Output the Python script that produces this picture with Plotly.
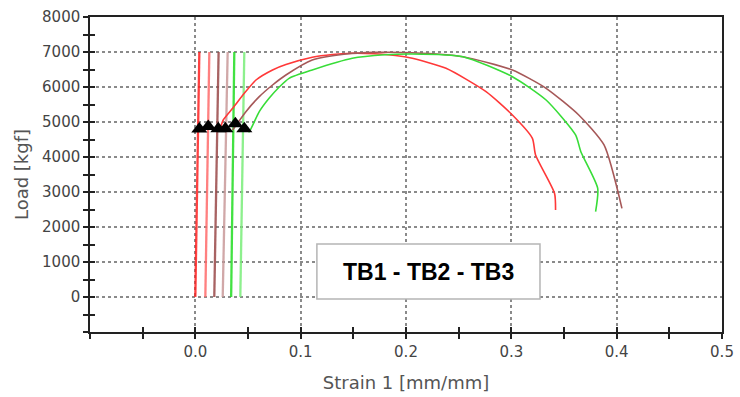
import plotly.graph_objects as go

# Elastic (vertical) lines: strain at load 0 and at load 7000
elastic_names = ["TB1 a", "TB1 b", "TB2 a", "TB2 b", "TB3 a", "TB3 b"]
elastic_strain_bottom = [0.0, 0.0095, 0.018, 0.026, 0.034, 0.0427]
elastic_strain_top = [0.0038, 0.0133, 0.0221, 0.0307, 0.037, 0.0465]
elastic_load = [0, 7000]
elastic_colors = ["#ff2020", "#ff6a6a", "#9a4848", "#c99a9a", "#22dd22", "#7aee7a"]

# Main load-strain curves
tb1_strain = [0.024, 0.0265, 0.0354, 0.0465, 0.0576, 0.0733, 0.086, 0.111, 0.13, 0.149, 0.17,
              0.19, 0.206, 0.238, 0.276, 0.301, 0.320, 0.323, 0.341, 0.342]
tb1_load = [4850, 5057, 5390, 5819, 6200, 6486, 6640, 6850, 6930, 6963, 6950,
            6900, 6820, 6534, 5866, 5200, 4534, 4057, 2963, 2486]

tb2_strain = [0.0354, 0.048, 0.0607, 0.0733, 0.086, 0.111, 0.143, 0.17, 0.206, 0.254,
              0.301, 0.333, 0.364, 0.388, 0.405]
tb2_load = [4771, 5295, 5724, 6057, 6343, 6771, 6943, 6990, 6980, 6866,
            6486, 5963, 5200, 4343, 2534]

tb3_strain = [0.0505, 0.0512, 0.0607, 0.070, 0.0797, 0.089, 0.111, 0.149, 0.18, 0.206, 0.254,
              0.301, 0.333, 0.361, 0.366, 0.382, 0.380]
tb3_load = [4730, 4724, 5295, 5676, 6000, 6248, 6486, 6820, 6920, 6943, 6866,
            6294, 5629, 4629, 4151, 3106, 2437]
curve_colors = ["#ff3838", "#a65858", "#38dd38"]

# Triangle markers
tri_strain = [0.0038, 0.0123, 0.0218, 0.0285, 0.038, 0.0465]
tri_load = [4800, 4870, 4810, 4810, 4950, 4810]

x_ticks = [0.0, 0.1, 0.2, 0.3, 0.4, 0.5]
x_ticklabels = ["0.0", "0.1", "0.2", "0.3", "0.4", "0.5"]
y_ticks = [0, 1000, 2000, 3000, 4000, 5000, 6000, 7000, 8000]

fig = go.Figure()

for name, xb, xt, c in zip(elastic_names, elastic_strain_bottom, elastic_strain_top, elastic_colors):
    fig.add_trace(go.Scatter(x=[xb, xt], y=elastic_load, mode="lines",
                             line=dict(color=c, width=2.3), opacity=0.85,
                             name=name, showlegend=False))

for xs, ys, c, n in [(tb1_strain, tb1_load, curve_colors[0], "TB1"),
                     (tb2_strain, tb2_load, curve_colors[1], "TB2"),
                     (tb3_strain, tb3_load, curve_colors[2], "TB3")]:
    fig.add_trace(go.Scatter(x=xs, y=ys, mode="lines", line=dict(color=c, width=1.6, shape="spline", smoothing=0.6),
                             name=n, showlegend=False))

fig.add_trace(go.Scatter(x=tri_strain, y=tri_load, mode="markers",
                         marker=dict(symbol="triangle-up", size=14, color="black"),
                         showlegend=False))

tickfont = dict(family="DejaVu Sans", size=15, color="#444444")
titlefont = dict(family="DejaVu Sans", size=18, color="#555555")

fig.update_layout(
    width=740, height=397,
    margin=dict(l=90, r=18, t=17, b=65),
    paper_bgcolor="white", plot_bgcolor="white",
    showlegend=False,
    xaxis=dict(range=[-0.1, 0.5], tickvals=x_ticks, ticktext=x_ticklabels, automargin=False,
               showline=True, linecolor="#222222", linewidth=1.5, mirror=True,
               ticks="outside", ticklen=5, tickwidth=1.5, tickcolor="#222222",
               minor=dict(dtick=0.05, tick0=0, ticks="outside", ticklen=5, tickwidth=1.5, tickcolor="#222222", showgrid=False),
               showgrid=True, gridcolor="#8a8a8a", gridwidth=1.5, griddash="dot",
               zeroline=False, tickfont=tickfont,
               title=dict(text="Strain 1 [mm/mm]", font=titlefont, standoff=17)),
    yaxis=dict(range=[-1000, 8000], tickvals=y_ticks, automargin=False,
               showline=True, linecolor="#222222", linewidth=1.5, mirror=True,
               ticks="outside", ticklen=5, tickwidth=1.5, tickcolor="#222222",
               minor=dict(dtick=500, tick0=0, ticks="outside", ticklen=5, tickwidth=1.5, tickcolor="#222222", showgrid=False),
               showgrid=True, gridcolor="#8a8a8a", gridwidth=1.5, griddash="dot",
               zeroline=False, tickfont=tickfont,
               title=dict(text="Load [kgf]", font=titlefont, standoff=9)),
    xaxis2=dict(overlaying="x", matches="x", anchor="y", side="bottom", automargin=False,
                range=[-0.1, 0.5], tickvals=x_ticks, showticklabels=False,
                ticks="inside", ticklen=5, tickwidth=1.5, tickcolor="#222222",
                minor=dict(dtick=0.05, tick0=0, ticks="inside", ticklen=5, tickwidth=1.5, tickcolor="#222222"),
                showgrid=False, zeroline=False, showline=False),
    yaxis2=dict(overlaying="y", matches="y", anchor="x", side="left", automargin=False,
                range=[-1000, 8000], tickvals=y_ticks, showticklabels=False,
                ticks="inside", ticklen=5, tickwidth=1.5, tickcolor="#222222",
                minor=dict(dtick=500, tick0=0, ticks="inside", ticklen=5, tickwidth=1.5, tickcolor="#222222"),
                showgrid=False, zeroline=False, showline=False),
)

# Dummy invisible trace to activate overlay axes
fig.add_trace(go.Scatter(x=[None], y=[None], xaxis="x2", yaxis="y2", showlegend=False, hoverinfo="skip"))

fig.add_shape(type="rect", xref="paper", yref="paper", x0=0.359, x1=0.712, y0=0.105, y1=0.279,
              line=dict(color="#b5b5b5", width=1.5), fillcolor="white", layer="above")
fig.add_annotation(text="<b>TB1 - TB2 - TB3</b>", xref="paper", yref="paper", x=0.536, y=0.19,
                   showarrow=False, font=dict(family="Liberation Sans", size=23, color="black"),
                   xanchor="center", yanchor="middle")

fig.write_html("out.html", config={"displayModeBar": False},
               post_script="document.body.style.margin='0';document.body.style.overflow='hidden';")
